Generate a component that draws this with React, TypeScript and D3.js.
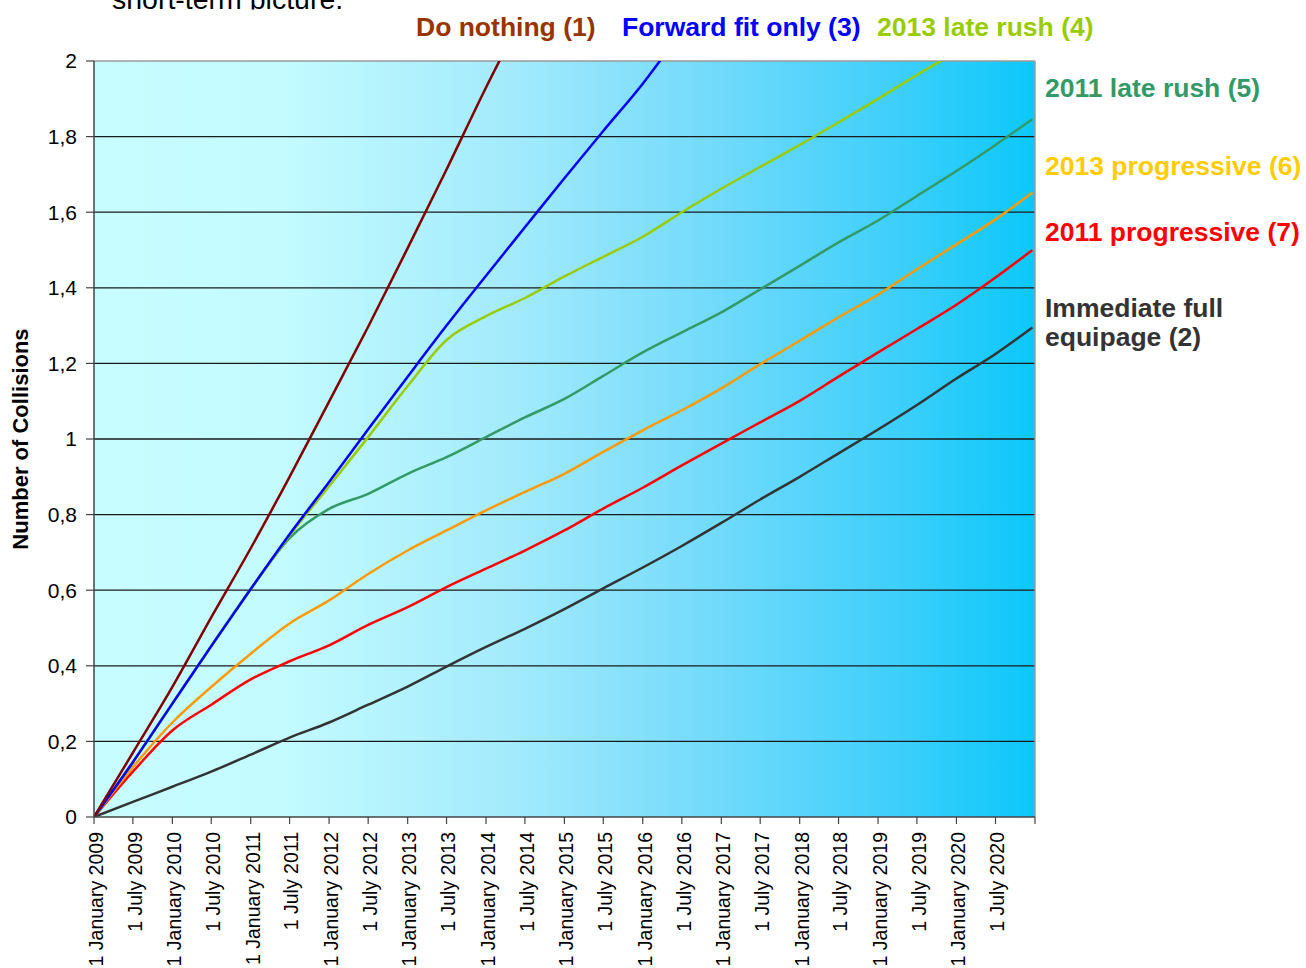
import React from 'react';
import * as d3 from 'd3';

// half-year sample dates (last one is the end of the series, just before 2021)
const dates = [
  '2009-01-01', '2009-07-01', '2010-01-01', '2010-07-01', '2011-01-01', '2011-07-01',
  '2012-01-01', '2012-07-01', '2013-01-01', '2013-07-01', '2014-01-01', '2014-07-01',
  '2015-01-01', '2015-07-01', '2016-01-01', '2016-07-01', '2017-01-01', '2017-07-01',
  '2018-01-01', '2018-07-01', '2019-01-01', '2019-07-01', '2020-01-01', '2020-07-01',
  '2020-12-20',
];

const doNothing = [0, 0.17, 0.344, 0.528, 0.711, 0.9, 1.099, 1.297, 1.505, 1.713, 1.93, 2.13];
const forwardFit = [0, 0.145, 0.3, 0.452, 0.603, 0.748, 0.886, 1.026, 1.165, 1.3, 1.432, 1.56, 1.69, 1.815, 1.94, 2.08];
const lateRush2013 = [0, 0.145, 0.3, 0.452, 0.603, 0.745, 0.875, 1.005, 1.14, 1.262, 1.325, 1.373, 1.43, 1.482, 1.535, 1.6, 1.662, 1.72, 1.778, 1.838, 1.9, 1.963, 2.025, 2.09];
const lateRush2011 = [0, 0.145, 0.3, 0.452, 0.603, 0.738, 0.815, 0.855, 0.908, 0.952, 1.005, 1.057, 1.106, 1.167, 1.229, 1.282, 1.335, 1.396, 1.458, 1.52, 1.578, 1.643, 1.709, 1.778, 1.846];
const progressive2013 = [0, 0.132, 0.25, 0.344, 0.432, 0.512, 0.573, 0.643, 0.705, 0.758, 0.811, 0.86, 0.908, 0.966, 1.023, 1.076, 1.134, 1.198, 1.26, 1.322, 1.382, 1.449, 1.515, 1.581, 1.652];
const progressive2011 = [0, 0.12, 0.229, 0.297, 0.364, 0.412, 0.454, 0.508, 0.555, 0.608, 0.657, 0.705, 0.758, 0.816, 0.871, 0.93, 0.988, 1.044, 1.101, 1.165, 1.229, 1.291, 1.355, 1.427, 1.5];
const immediateFull = [0, 0.04, 0.08, 0.12, 0.165, 0.21, 0.25, 0.297, 0.345, 0.398, 0.45, 0.498, 0.55, 0.605, 0.66, 0.717, 0.778, 0.84, 0.9, 0.962, 1.025, 1.09, 1.16, 1.225, 1.295];

const yTicks = [0, 0.2, 0.4, 0.6, 0.8, 1, 1.2, 1.4, 1.6, 1.8, 2];

const series = [
  { name: 'Immediate full equipage (2)', values: immediateFull, color: '#333333' },
  { name: '2011 progressive (7)', values: progressive2011, color: '#ff0000' },
  { name: '2013 progressive (6)', values: progressive2013, color: '#ff9900' },
  { name: '2011 late rush (5)', values: lateRush2011, color: '#339966' },
  { name: '2013 late rush (4)', values: lateRush2013, color: '#99cc00' },
  { name: 'Forward fit only (3)', values: forwardFit, color: '#0000ff' },
  { name: 'Do nothing (1)', values: doNothing, color: '#800000' },
];

const topLabels = [
  { text: 'Do nothing (1)', color: '#993300', x: 416 },
  { text: 'Forward fit only (3)', color: '#0000ff', x: 622 },
  { text: '2013 late rush (4)', color: '#99cc00', x: 877 },
];

const sideLabels = [
  { lines: ['2011 late rush (5)'], color: '#339966', y: 97 },
  { lines: ['2013 progressive (6)'], color: '#ffcc00', y: 175 },
  { lines: ['2011 progressive (7)'], color: '#ff0000', y: 241 },
  { lines: ['Immediate full', 'equipage (2)'], color: '#333333', y: 317 },
];

const FONT = '"Liberation Sans", Arial, Helvetica, sans-serif';

export default function App() {
  const W = 1306, H = 968;
  const left = 94, right = 1035, top = 61, bottom = 817;
  const parse = d3.timeParse('%Y-%m-%d');
  const x = d3.scaleTime()
    .domain([new Date(2009, 0, 1), new Date(2021, 0, 1)])
    .range([left, right]);
  const y = d3.scaleLinear().domain([0, 2]).range([bottom, top]);

  const line = d3.line<[Date, number]>()
    .x(d => x(d[0]))
    .y(d => y(d[1]))
    .curve(d3.curveMonotoneX);

  const tickDates = d3.timeMonth.every(6)!.range(new Date(2009, 0, 1), new Date(2021, 0, 2));
  const fmtDate = d3.timeFormat('%-d %B %Y');
  const fmtY = (v: number) => d3.format('~g')(v).replace('.', ',');

  return (
    <svg width={W} height={H} style={{ position: 'absolute', left: 0, top: 0, background: '#fff' }} fontFamily={FONT}>
      <defs>
        <linearGradient id="bg" x1="0" x2="1" y1="0" y2="0">
          <stop offset="0" stopColor="#c8fdff" />
          <stop offset="0.2" stopColor="#c3fbff" />
          <stop offset="0.45" stopColor="#a2eafc" />
          <stop offset="0.65" stopColor="#74dbfb" />
          <stop offset="0.85" stopColor="#3fcffb" />
          <stop offset="1" stopColor="#0bc8fa" />
        </linearGradient>
        <clipPath id="plot">
          <rect x={left} y={top} width={right - left} height={bottom - top} />
        </clipPath>
        <clipPath id="topcut">
          <rect x={0} y={0} width={W} height={9.5} />
        </clipPath>
      </defs>

      <text x={112} y={9} fontSize={28.5} fill="#000" clipPath="url(#topcut)">short-term picture.</text>

      <rect x={left} y={top} width={right - left} height={bottom - top} fill="url(#bg)" />

      {yTicks.filter(v => v > 0 && v < 2).map(v => (
        <line key={v} x1={left} x2={right} y1={y(v)} y2={y(v)} stroke="#1a1a1a" strokeWidth={1.3} />
      ))}
      <line x1={left} x2={right} y1={top} y2={top} stroke="#9a9a9a" strokeWidth={1.5} />
      <line x1={right} x2={right} y1={top} y2={bottom} stroke="#9a9a9a" strokeWidth={1.5} />

      <g clipPath="url(#plot)">
        {series.map(s => (
          <path
            key={s.name}
            d={line(s.values.map((v, i) => [parse(dates[i])!, v] as [Date, number])) || ''}
            fill="none"
            stroke={s.color}
            strokeWidth={2.5}
            strokeLinejoin="round"
          />
        ))}
      </g>

      {/* axes */}
      <line x1={left} x2={left} y1={top} y2={bottom} stroke="#444" strokeWidth={1.5} />
      <line x1={left} x2={right} y1={bottom} y2={bottom} stroke="#444" strokeWidth={1.5} />
      {yTicks.map(v => (
        <g key={v}>
          <line x1={left - 8} x2={left} y1={y(v)} y2={y(v)} stroke="#444" strokeWidth={1.2} />
          <text x={77} y={y(v)} dy="0.35em" textAnchor="end" fontSize={21} fill="#000">{fmtY(v)}</text>
        </g>
      ))}
      {tickDates.map((d, i) => (
        <g key={i}>
          <line x1={x(d)} x2={x(d)} y1={bottom} y2={bottom + 7} stroke="#444" strokeWidth={1.2} />
          {d.getFullYear() < 2021 && (
            <text
              transform={`translate(${x(d) + 2},${832}) rotate(-90)`}
              dy="0.35em"
              textAnchor="end"
              fontSize={19.5}
              fill="#000"
            >{fmtDate(d)}</text>
          )}
        </g>
      ))}

      <text transform={`translate(28,${(top + bottom) / 2}) rotate(-90)`} textAnchor="middle" fontSize={22} fontWeight="bold" fill="#000">
        Number of Collisions
      </text>

      {topLabels.map(l => (
        <text key={l.text} x={l.x} y={36} fontSize={26.5} fontWeight="bold" fill={l.color}>{l.text}</text>
      ))}
      {sideLabels.map(l => (
        <text key={l.lines[0]} x={1045} y={l.y} fontSize={26.5} fontWeight="bold" fill={l.color}>
          {l.lines.map((t, i) => (
            <tspan key={i} x={1045} dy={i === 0 ? 0 : 29}>{t}</tspan>
          ))}
        </text>
      ))}
    </svg>
  );
}
